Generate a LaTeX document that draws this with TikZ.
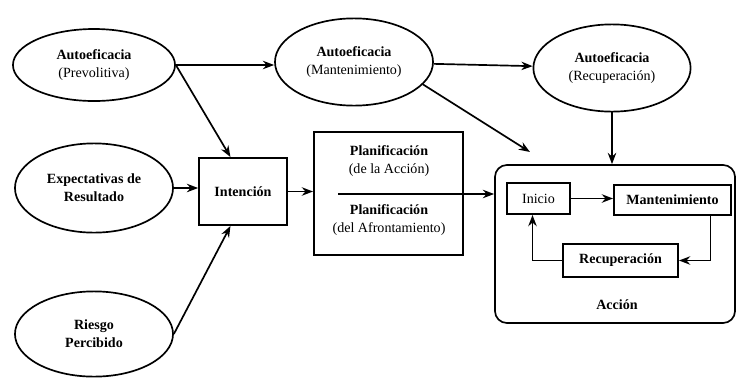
\documentclass[tikz,border=0pt]{standalone}
\usepackage{fontspec}
\setmainfont{Liberation Serif}
\usetikzlibrary{shapes.geometric,arrows.meta}
\begin{document}
\begin{tikzpicture}[
        x=0.025cm, y=-0.025cm,
        >={Stealth[length=8pt,width=6pt]},
        line width=1.2pt,
        every node/.style={font=\fontsize{10}{13}\selectfont, align=center, inner sep=0pt},
        elipse/.style={draw, ellipse},
        caja/.style={draw, rectangle}
    ]
    \useasboundingbox (0,0) rectangle (736,377);
    % Left: the three ellipses
    \node[elipse, minimum width=4.05cm, minimum height=1.8cm] (prev) at (94,65)
        {\textbf{Autoeficacia}\\(Prevolitiva)};
    \node[elipse, minimum width=3.95cm, minimum height=2.23cm] (expe) at (94,188)
        {\textbf{Expectativas de}\\\textbf{Resultado}};
    \node[elipse, minimum width=3.95cm, minimum height=2.13cm] (ries) at (94,334)
        {\textbf{Riesgo}\\\textbf{Percibido}};
    
    % Top row
    \node[elipse, minimum width=3.95cm, minimum height=2.18cm] (mant) at (354,62)
        {\textbf{Autoeficacia}\\(Mantenimiento)};
    \node[elipse, minimum width=3.93cm, minimum height=2.18cm] (recu) at (612,68)
        {\textbf{Autoeficacia}\\(Recuperación)};
    
    % Middle: intention and planning
    \node[caja, minimum width=2.2cm, minimum height=1.68cm] (inten) at (243,191.5)
        {\textbf{Intención}};
    \node[caja, minimum width=3.73cm, minimum height=3.08cm] (plan) at (388.5,193.5) {};
    \node (plana) at (389,161) {\textbf{Planificación}\\(de la Acción)};
    \node (planb) at (389,220) {\textbf{Planificación}\\(del Afrontamiento)};
    \coordinate (pl) at (338,194);
    
    % Right: action box
    \node[caja, rounded corners=0.3cm, minimum width=6cm, minimum height=3.95cm] (accion) at (615,244) {};
    \node[caja, minimum width=1.58cm, minimum height=0.78cm] (inicio) at (538.5,198.5) {Inicio};
    \node[caja, minimum width=2.93cm, minimum height=0.75cm] (mbox) at (672.5,200) {\textbf{Mantenimiento}};
    \node[caja, minimum width=2.88cm, minimum height=0.83cm] (rbox) at (620.5,260.5) {\textbf{Recuperación}};
    \node (acc) at (617,305) {\textbf{Acción}};
    \coordinate (mfin) at (530,152);
    
    % Arrows
    \draw[->] (prev.east) -- (prev.east -| mant.west);
    \draw[->] (prev.east) -- (inten.110);
    \draw[->] (expe.east) -- (expe.east -| inten.west);
    \draw[->] (ries.east) -- (inten.250);
    \draw[->] (mant) -- (recu);
    \draw[->] (mant.-18) -- (mfin);
    \draw[->] (recu.south) -- (recu.south |- accion.north);
    \draw[->] (inten.east) -- (inten.east -| plan.west);
    \draw[->] (pl) -- (pl -| accion.west);
    \draw[->] (inicio.east) -- (inicio.east -| mbox.west);
    \draw[->] ([xshift=0.95cm]mbox.south) |- (rbox.east);
    \draw[->] (rbox.west) -| ([xshift=-0.15cm]inicio.south);
    \end{tikzpicture}
\end{document}
